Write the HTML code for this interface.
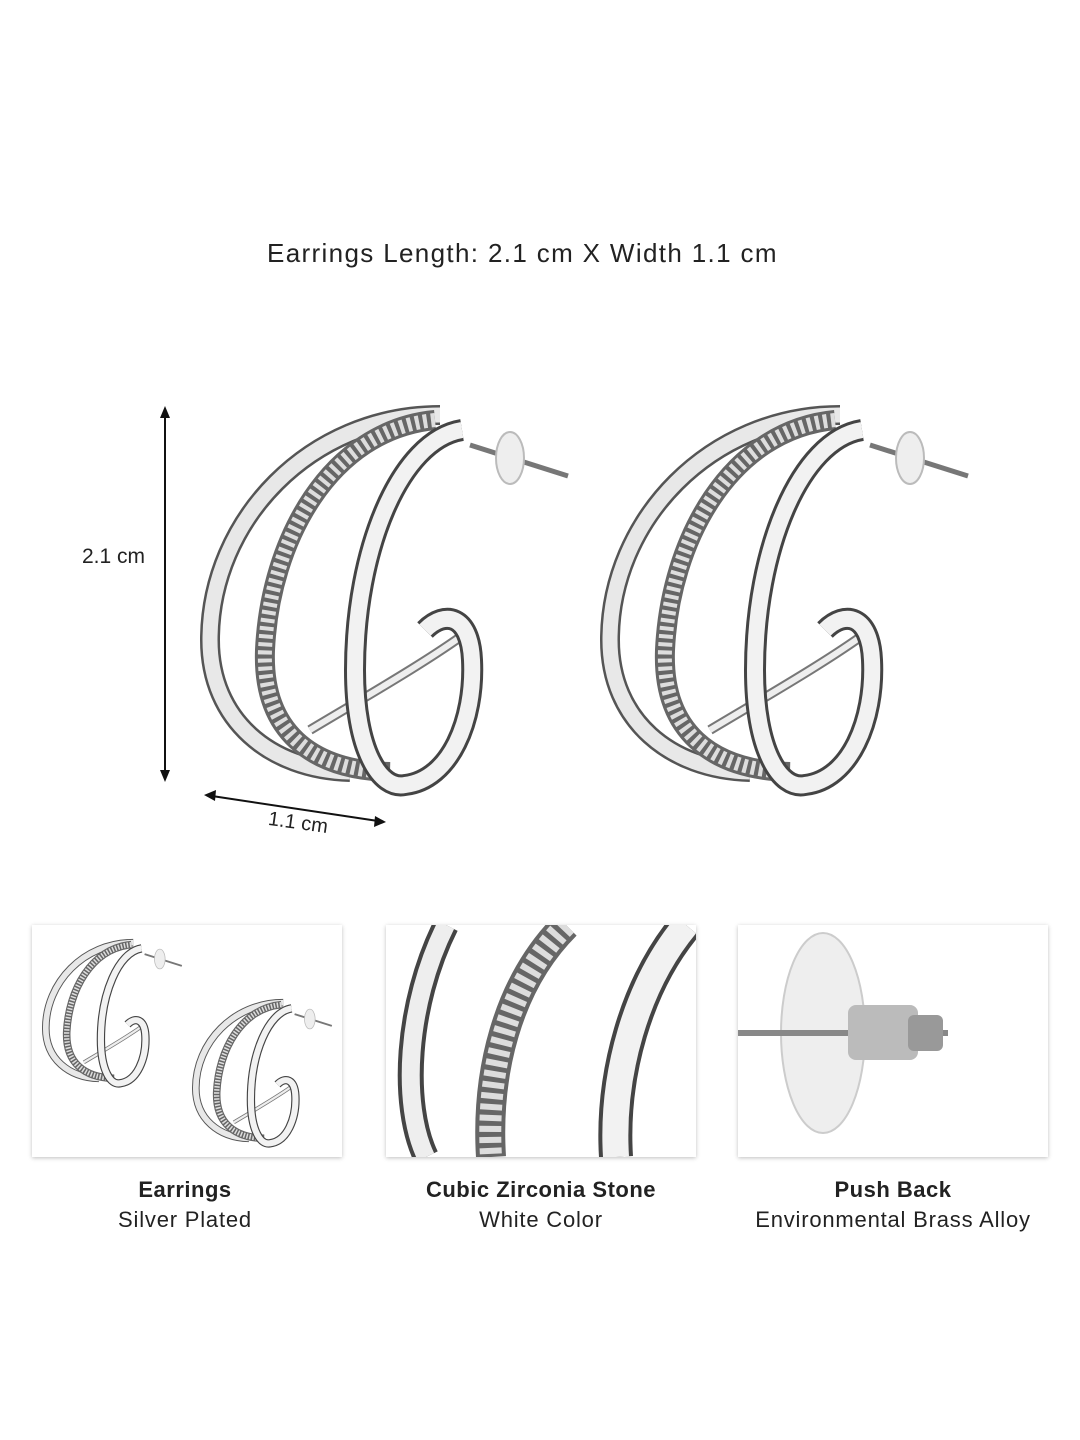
<!DOCTYPE html>
<html><head><meta charset="utf-8"><style>
body{margin:0;width:1080px;height:1440px;background:#fff;position:relative;font-family:"Liberation Sans",sans-serif;color:#222;overflow:hidden}
.t{position:absolute;white-space:nowrap}
.panel{position:absolute;top:925px;width:310px;height:232px;background:#fff;box-shadow:0 1px 4px rgba(0,0,0,.25);overflow:hidden}
.lab{position:absolute;text-align:center;width:360px;font-size:22px;letter-spacing:0.8px}
.lab b{display:block;font-size:22px;margin-bottom:4px;letter-spacing:0.5px}
</style></head><body>
<svg width="0" height="0" style="position:absolute">
<defs>
<g id="ear">
 <path d="M240,15 C110,15 10,120 10,240 C10,320 70,370 150,372" fill="none" stroke="#555" stroke-width="20"/>
 <path d="M240,15 C110,15 10,120 10,240 C10,320 70,370 150,372" fill="none" stroke="#e8e8e8" stroke-width="15"/>
 <path d="M235,20 C130,30 70,140 65,250 C62,330 110,370 190,372" fill="none" stroke="#666" stroke-width="20"/>
 <path d="M235,20 C130,30 70,140 65,250 C62,330 110,370 190,372" fill="none" stroke="#ddd" stroke-width="14" stroke-dasharray="4 4"/>
 <path d="M110,330 C160,300 230,260 270,230" fill="none" stroke="#777" stroke-width="10"/>
 <path d="M110,330 C160,300 230,260 270,230" fill="none" stroke="#eee" stroke-width="6"/>
 <path d="M262,30 C200,40 155,150 155,270 C155,350 180,390 205,385 C250,380 275,320 272,260 C270,215 245,210 225,230" fill="none" stroke="#444" stroke-width="22"/>
 <path d="M262,30 C200,40 155,150 155,270 C155,350 180,390 205,385 C250,380 275,320 272,260 C270,215 245,210 225,230" fill="none" stroke="#f2f2f2" stroke-width="16"/>
 <line x1="270" y1="45" x2="368" y2="76" stroke="#777" stroke-width="5"/>
 <ellipse cx="310" cy="58" rx="14" ry="26" fill="#eee" stroke="#bbb" stroke-width="2"/>
</g>
</defs></svg>

<div class="t" style="left:267px;top:238px;font-size:26px;letter-spacing:1.35px">Earrings Length: 2.1 cm X Width 1.1 cm</div>

<svg style="position:absolute;left:0;top:0" width="1080" height="900">
 <line x1="165" y1="414" x2="165" y2="774" stroke="#111" stroke-width="2"/>
 <polygon points="165,406 160,418 170,418" fill="#111"/>
 <polygon points="165,782 160,770 170,770" fill="#111"/>
 <line x1="212" y1="796" x2="378" y2="821" stroke="#111" stroke-width="2"/>
 <polygon points="204,795 216,790 215,801" fill="#111"/>
 <polygon points="386,822 374,827 375,816" fill="#111"/>
 <use href="#ear" transform="translate(200,400)"/>
 <use href="#ear" transform="translate(600,400)"/>
</svg>
<div class="t" style="left:82px;top:545px;font-size:21px">2.1 cm</div>
<div class="t" style="left:268px;top:812px;font-size:20px;transform:rotate(8deg)">1.1 cm</div>

<div class="panel" style="left:32px">
<svg width="310" height="232">
 <use href="#ear" transform="translate(10,12) scale(0.38)"/>
 <use href="#ear" transform="translate(160,72) scale(0.38)"/>
</svg></div>
<div class="panel" style="left:386px">
<svg width="310" height="232">
 <path d="M60,0 C20,80 15,180 40,232" fill="none" stroke="#444" stroke-width="26"/>
 <path d="M60,0 C20,80 15,180 40,232" fill="none" stroke="#eee" stroke-width="18"/>
 <path d="M180,0 C120,60 100,150 105,232" fill="none" stroke="#666" stroke-width="30"/>
 <path d="M180,0 C120,60 100,150 105,232" fill="none" stroke="#ddd" stroke-width="22" stroke-dasharray="6 5"/>
 <path d="M300,0 C250,60 225,150 230,232" fill="none" stroke="#444" stroke-width="34"/>
 <path d="M300,0 C250,60 225,150 230,232" fill="none" stroke="#f2f2f2" stroke-width="26"/>
</svg></div>
<div class="panel" style="left:738px">
<svg width="310" height="232">
 <ellipse cx="85" cy="108" rx="42" ry="100" fill="#eee" stroke="#ccc" stroke-width="2"/>
 <line x1="0" y1="108" x2="210" y2="108" stroke="#888" stroke-width="6"/>
 <rect x="110" y="80" width="70" height="55" rx="8" fill="#bbb"/>
 <rect x="170" y="90" width="35" height="36" rx="6" fill="#999"/>
</svg></div>

<div class="lab" style="left:5px;top:1177px"><b>Earrings</b>Silver Plated</div>
<div class="lab" style="left:361px;top:1177px"><b>Cubic Zirconia Stone</b>White Color</div>
<div class="lab" style="left:713px;top:1177px"><b>Push Back</b>Environmental Brass Alloy</div>
</body></html>
